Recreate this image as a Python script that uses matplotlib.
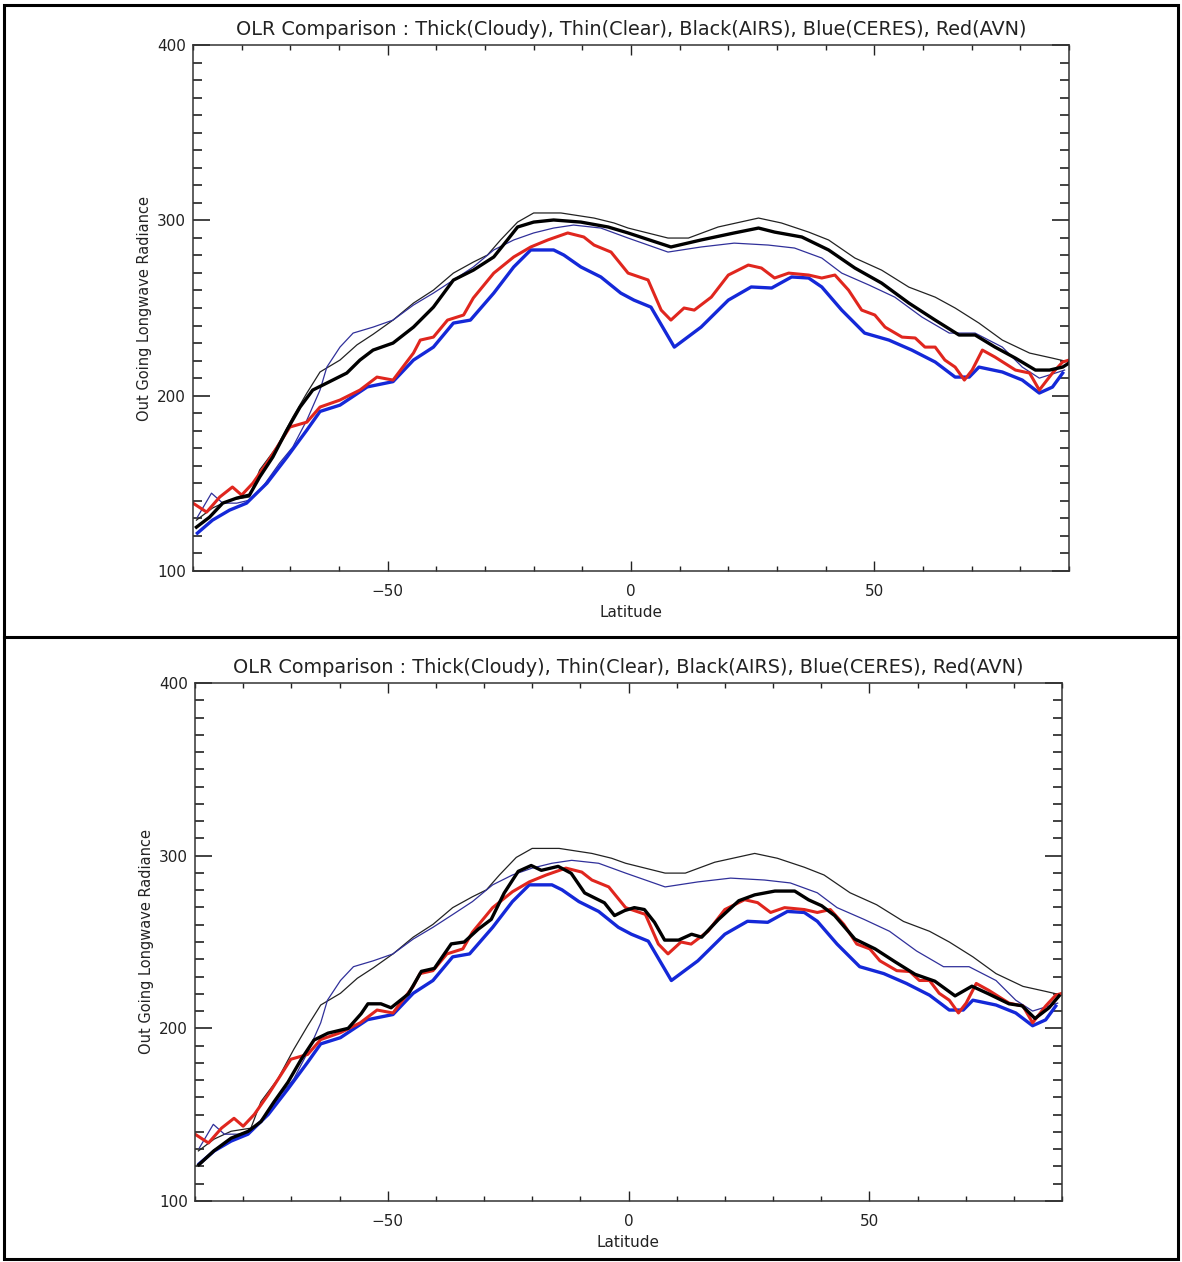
import matplotlib
matplotlib.use("Agg")
import numpy as np
from matplotlib import pyplot as plt
from matplotlib.patches import Rectangle
from matplotlib.lines import Line2D
from matplotlib.ticker import MultipleLocator

# zonal mean OLR, latitude (deg) vs W/m^2
ceres_cloudy_lat = [-89.1, -86.0, -82.5, -79.0, -74.8, -70.7, -66.6, -63.9, -59.8, -54.2, -48.9, -44.7,
                    -40.6, -36.5, -33.0, -28.2, -24.1, -20.6, -15.9, -13.8, -10.3, -6.2, -2.1, 0.6, 4.1,
                    8.9, 14.4, 20.0, 24.7, 28.9, 33.0, 36.5, 39.2, 43.3, 48.0, 53.0, 57.7, 62.5, 66.6,
                    69.5, 71.5, 76.3, 80.4, 83.9, 86.6, 88.7]
ceres_cloudy = [121.6, 129.0, 134.7, 138.7, 150.1, 164.9, 180.4, 191.0, 194.6, 205.0, 208.0, 220.3,
                227.7, 241.4, 243.1, 258.5, 273.4, 283.1, 283.1, 280.2, 273.4, 267.7, 258.5, 254.5, 250.5,
                227.7, 239.1, 254.5, 262.0, 261.4, 267.7, 267.1, 262.0, 248.8, 235.7, 231.7, 226.0, 219.2,
                210.6, 210.6, 216.3, 213.5, 208.9, 201.5, 204.9, 212.9]

avn_cloudy_lat = [-90.0, -87.2, -84.5, -81.9, -80.0, -77.7, -74.8, -72.2, -70.1, -66.6, -63.9, -59.8,
                  -55.7, -52.2, -48.9, -44.7, -43.3, -40.6, -37.7, -34.4, -32.4, -28.2, -24.1, -20.6,
                  -17.1, -13.0, -9.7, -7.6, -4.1, -0.6, 3.5, 6.2, 8.2, 10.9, 13.0, 16.5, 20.0, 24.1,
                  26.8, 29.5, 32.4, 36.5, 39.2, 41.9, 44.7, 47.4, 50.1, 52.2, 55.7, 58.4, 60.4, 62.5,
                  64.5, 66.6, 68.5, 70.1, 72.2, 74.8, 79.0, 81.9, 83.9, 86.6, 88.7, 90.0]
avn_cloudy = [138.7, 133.6, 142.2, 147.9, 143.3, 150.1, 161.6, 172.9, 182.1, 184.9, 193.5, 197.5,
              203.2, 210.6, 208.9, 224.3, 231.7, 233.4, 243.1, 246.0, 255.7, 269.9, 279.1, 284.8,
              288.8, 292.8, 290.5, 285.9, 281.9, 269.9, 266.0, 248.8, 243.1, 250.0, 248.8, 256.2,
              268.8, 274.5, 272.8, 267.1, 269.9, 268.8, 267.1, 268.8, 260.2, 248.8, 246.0, 239.1,
              233.4, 232.9, 227.7, 227.7, 220.3, 216.3, 208.9, 214.6, 226.0, 222.0, 214.6, 212.9,
              203.2, 212.9, 219.2, 220.3]

airs_clear_lat = [-89.3, -86.0, -82.5, -78.4, -76.3, -72.8, -69.5, -66.6, -63.9, -59.8, -56.3, -53.0,
                  -48.9, -44.7, -40.6, -36.5, -32.4, -29.5, -26.8, -23.3, -20.0, -14.4, -7.6, -3.5,
                  -0.6, 7.6, 11.8, 17.9, 26.2, 30.9, 36.5, 40.6, 46.0, 51.5, 57.1, 62.5, 66.6, 71.5,
                  76.3, 81.9, 86.6, 90.0]
airs_clear = [129.0, 135.9, 140.4, 142.2, 157.6, 170.7, 187.8, 201.5, 213.5, 220.3, 229.0, 235.0,
              243.1, 252.8, 260.2, 269.9, 276.2, 280.2, 288.8, 299.0, 304.2, 304.2, 301.3, 298.5,
              295.6, 289.9, 289.9, 296.2, 301.3, 298.5, 293.3, 288.8, 278.5, 271.6, 261.9, 256.2,
              250.0, 241.4, 231.7, 224.3, 221.4, 219.2]

ceres_clear_lat = [-89.1, -86.2, -83.9, -81.0, -78.4, -75.7, -72.2, -69.5, -66.6, -63.9, -62.5, -59.8,
                   -57.1, -53.0, -48.9, -44.7, -40.6, -36.5, -32.4, -28.2, -24.1, -20.0, -15.9, -11.8,
                   -6.2, -0.6, 7.6, 14.4, 21.2, 28.2, 33.6, 39.2, 43.3, 48.9, 54.2, 59.8, 65.4, 70.7,
                   76.3, 80.4, 83.9, 87.2, 89.1]
ceres_clear = [130.7, 144.4, 138.7, 138.7, 140.4, 147.9, 161.6, 170.7, 186.1, 203.2, 216.3, 227.7,
               235.7, 239.1, 243.1, 251.7, 258.5, 265.9, 273.4, 283.1, 288.8, 292.8, 295.6, 297.3,
               295.6, 289.9, 281.9, 284.8, 287.0, 285.9, 284.2, 278.5, 269.9, 263.1, 256.2, 244.8,
               235.7, 235.7, 227.7, 216.3, 210.0, 212.9, 214.6]

# AIRS cloudy, two retrievals (one per panel)
airs_cloudy_a_lat = [-89.3, -86.6, -83.9, -81.0, -78.4, -76.3, -73.6, -70.7, -68.0, -65.4, -62.5, -58.4,
                     -55.7, -53.0, -48.9, -44.7, -40.6, -36.5, -32.4, -28.2, -25.4, -23.3, -20.0, -15.9,
                     -10.3, -4.7, -0.6, 8.2, 14.4, 21.2, 26.2, 29.5, 35.1, 40.6, 46.0, 51.5, 57.1, 62.5,
                     67.4, 70.7, 74.8, 79.0, 83.1, 86.0, 88.7, 90.0]
airs_cloudy_a = [125.0, 130.7, 138.7, 141.6, 143.3, 153.6, 165.0, 180.4, 193.5, 203.2, 207.2, 212.9,
                 220.3, 226.0, 230.0, 239.1, 250.5, 265.9, 271.6, 279.1, 288.8, 296.2, 299.0, 300.2,
                 299.0, 296.2, 292.8, 284.8, 288.8, 292.8, 295.6, 293.3, 290.5, 283.1, 272.8, 264.2,
                 252.8, 243.1, 234.6, 234.6, 227.7, 221.4, 214.6, 214.6, 216.3, 218.6]

airs_cloudy_b_lat = [-89.2, -86.1, -82.5, -79.0, -76.3, -73.6, -70.7, -68.0, -65.3, -62.4, -58.2, -55.5,
                     -54.1, -51.4, -49.3, -45.7, -43.0, -40.3, -36.8, -34.1, -31.2, -28.5, -25.8, -22.9,
                     -20.2, -18.1, -14.6, -11.9, -9.1, -5.0, -2.9, -0.8, 1.2, 3.3, 5.4, 7.5, 10.4, 13.1,
                     15.2, 18.7, 22.9, 26.2, 30.4, 34.5, 37.4, 40.1, 42.8, 47.0, 51.2, 55.3, 59.5, 63.6,
                     67.8, 71.3, 74.8, 79.0, 81.7, 84.4, 87.3, 89.4]
airs_cloudy_b = [121.0, 129.0, 136.4, 140.3, 146.0, 157.4, 168.8, 181.8, 193.2, 197.2, 200.0, 208.5,
                 214.2, 214.2, 211.9, 219.9, 233.0, 234.7, 248.9, 250.0, 257.4, 263.1, 278.4, 290.9,
                 294.3, 291.5, 293.8, 289.8, 278.4, 272.7, 265.3, 268.2, 269.9, 268.8, 261.4, 251.1,
                 251.1, 254.5, 252.8, 263.1, 273.9, 277.3, 279.5, 279.5, 274.4, 271.0, 265.3, 251.7,
                 246.0, 238.6, 231.3, 227.3, 218.8, 224.4, 219.9, 214.2, 213.1, 205.7, 211.9, 218.8]

title = "OLR Comparison : Thick(Cloudy), Thin(Clear), Black(AIRS), Blue(CERES), Red(AVN)"

W, H = 1182, 1262
fig = plt.figure(figsize=(W / 100, H / 100), dpi=100)


def px_axes(l, t, r, b):
    return fig.add_axes([l / W, 1 - b / H, (r - l) / W, (b - t) / H])


def draw_panel(ax, airs_lat, airs_cloudy):
    ax.plot(airs_clear_lat, airs_clear, color="#222222", lw=0.9)
    ax.plot(ceres_clear_lat, ceres_clear, color="#30309a", lw=0.9)
    ax.plot(ceres_cloudy_lat, ceres_cloudy, color="#1428d8", lw=2.4)
    ax.plot(avn_cloudy_lat, avn_cloudy, color="#e0261e", lw=2.2)
    ax.plot(airs_lat, airs_cloudy, color="black", lw=2.4)

    ax.set_xlim(-90, 90)
    ax.set_ylim(100, 400)
    ax.xaxis.set_major_locator(MultipleLocator(50))
    ax.xaxis.set_minor_locator(MultipleLocator(10))
    ax.yaxis.set_major_locator(MultipleLocator(100))
    ax.yaxis.set_minor_locator(MultipleLocator(10))
    ax.tick_params(axis="both", which="both", direction="in", top=True, right=True,
                   labelsize=11, colors="#222222")
    ax.tick_params(axis="x", which="major", length=7.5, width=1.0, pad=9)
    ax.tick_params(axis="x", which="minor", length=3.8, width=1.0)
    ax.tick_params(axis="y", which="major", length=12.5, width=1.2, pad=5)
    ax.tick_params(axis="y", which="minor", length=6.3, width=1.2)
    for s in ax.spines.values():
        s.set_linewidth(1.1)
        s.set_color("#333333")
    ax.set_title(title, fontsize=13.9, pad=7, color="#222222")
    ax.set_xlabel("Latitude", fontsize=11, labelpad=5, color="#222222")
    ax.set_ylabel("Out Going Longwave Radiance", fontsize=10.5, labelpad=4, color="#222222")


top = px_axes(193, 45, 1069, 571)
draw_panel(top, airs_cloudy_a_lat, airs_cloudy_a)

bottom = px_axes(195, 683, 1062, 1201)
draw_panel(bottom, airs_cloudy_b_lat, airs_cloudy_b)

# page frame and divider
fig.add_artist(Rectangle((4 / W, 3 / H), 1174 / W, 1254 / H, transform=fig.transFigure,
                         fill=False, edgecolor="black", lw=2.2))
fig.add_artist(Line2D([4 / W, 1178 / W], [1 - 637 / H, 1 - 637 / H], transform=fig.transFigure,
                      color="black", lw=2.2))

fig.savefig("out.png", dpi=100)
